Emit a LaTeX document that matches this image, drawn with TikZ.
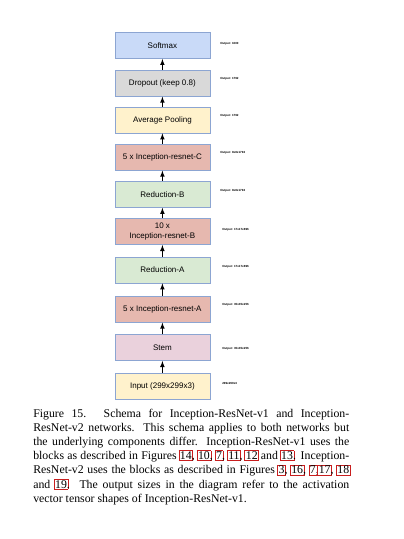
\documentclass[tikz,border=0pt]{standalone}
\usepackage{fontspec}
\setmainfont{Liberation Serif}
\newfontfamily\boxfont{Liberation Sans}
\usepackage{tikz}
\usepackage{xcolor}
\definecolor{softmaxblue}{RGB}{201, 218, 248}
\definecolor{dropoutgray}{RGB}{217, 217, 217}
\definecolor{poolyellow}{RGB}{255, 242, 204}
\definecolor{inceptionred}{RGB}{230, 184, 175}
\definecolor{reductiongreen}{RGB}{217, 234, 211}
\definecolor{stempurple}{RGB}{234, 209, 220}
\definecolor{boxborder}{RGB}{140, 165, 210}
\definecolor{refred}{RGB}{200, 30, 30}
\newcommand{\figref}[1]{\leavevmode\rlap{\kern-1pt{\setlength{\fboxsep}{0.5pt}\setlength{\fboxrule}{0.5pt}\color{refred}\fbox{\phantom{#1}}}}#1}

\begin{document}
\begin{tikzpicture}[
    layer/.style={draw=boxborder, line width=0.5pt, minimum width=2.375cm, minimum height=0.65cm, inner sep=1pt, align=center, font=\boxfont\fontsize{5.7}{6.6}\selectfont},
    outlabel/.style={anchor=west, inner sep=0pt, font=\boxfont\bfseries\fontsize{2.1}{2.5}\selectfont}
]
        \useasboundingbox[fill=white] (0,0) rectangle (10.1,-13.475);

        % Output layers
        \node[layer, fill=softmaxblue] (softmax) at (4.06,-1.14) {Softmax};
        \node[layer, fill=dropoutgray] (dropout) at (4.06,-2.08) {Dropout (keep 0.8)};
        \node[layer, fill=poolyellow] (avgpool) at (4.06,-3.00) {Average Pooling};

        % Inception-resnet-C and Reduction-B
        \node[layer, fill=inceptionred] (blockc) at (4.06,-3.93) {5 x Inception-resnet-C};
        \node[layer, fill=reductiongreen] (reductionb) at (4.06,-4.86) {Reduction-B};

        % Inception-resnet-B and Reduction-A
        \node[layer, fill=inceptionred] (blockb) at (4.06,-5.79) {10 x\\Inception-resnet-B};
        \node[layer, fill=reductiongreen] (reductiona) at (4.06,-6.75) {Reduction-A};

        % Inception-resnet-A, stem and input
        \node[layer, fill=inceptionred] (blocka) at (4.06,-7.73) {5 x Inception-resnet-A};
        \node[layer, fill=stempurple] (stem) at (4.06,-8.69) {Stem};
        \node[layer, fill=poolyellow] (input) at (4.06,-9.65) {Input (299x299x3)};

        % Arrows
        \draw[->, >=latex, line width=0.5pt] (input) -- (stem);
        \draw[->, >=latex, line width=0.5pt] (stem) -- (blocka);
        \draw[->, >=latex, line width=0.5pt] (blocka) -- (reductiona);
        \draw[->, >=latex, line width=0.5pt] (reductiona) -- (blockb);
        \draw[->, >=latex, line width=0.5pt] (blockb) -- (reductionb);
        \draw[->, >=latex, line width=0.5pt] (reductionb) -- (blockc);
        \draw[->, >=latex, line width=0.5pt] (blockc) -- (avgpool);
        \draw[->, >=latex, line width=0.5pt] (avgpool) -- (dropout);
        \draw[->, >=latex, line width=0.5pt] (dropout) -- (softmax);

        % Output sizes
        \node[outlabel] (outsoftmax) at (5.5,-1.09) {Output: 1000};
        \node[outlabel] (outdropout) at (5.5,-1.98) {Output: 1792};
        \node[outlabel] (outavgpool) at (5.5,-2.90) {Output: 1792};
        \node[outlabel] (outblockc) at (5.5,-3.83) {Output: 8x8x1792};
        \node[outlabel] (outreductionb) at (5.5,-4.76) {Output: 8x8x1792};
        \node[outlabel] (outblockb) at (5.55,-5.75) {Output: 17x17x896};
        \node[outlabel] (outreductiona) at (5.55,-6.68) {Output: 17x17x896};
        \node[outlabel] (outblocka) at (5.55,-7.63) {Output: 35x35x256};
        \node[outlabel] (outstem) at (5.55,-8.72) {Output: 35x35x256};
        \node[outlabel] (outinput) at (5.55,-9.58) {299x299x3};

        % Caption
        \node[anchor=base west, inner sep=0pt, text width=7.9cm, align=justify, font=\fontsize{8.4}{10.1}\selectfont] (caption) at (0.825,-10.425) {Figure 15. Schema for Inception-ResNet-v1 and Inception-\linebreak ResNet-v2 networks. This schema applies to both networks but\linebreak the underlying components differ. Inception-ResNet-v1 uses the\linebreak blocks as described in Figures \figref{14}, \figref{10}, \figref{7}, \figref{11}, \figref{12} and \figref{13}. Inception-\linebreak ResNet-v2 uses the blocks as described in Figures \figref{3}, \figref{16}, \figref{7},\figref{17}, \figref{18}\linebreak and \figref{19}. The output sizes in the diagram refer to the activation\linebreak vector tensor shapes of Inception-ResNet-v1.};
    \end{tikzpicture}
\end{document}
